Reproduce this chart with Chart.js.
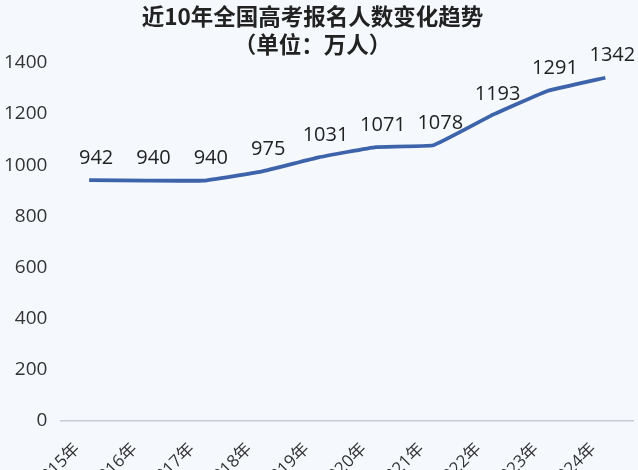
<!DOCTYPE html>
<html>
<head>
<meta charset="utf-8">
<script src="https://cdn.jsdelivr.net/npm/chart.js@4"></script>
<style>
html,body{margin:0;padding:0;background:#f5f8fc;overflow:hidden;width:638px;height:470px;position:relative;}
#wrap{position:absolute;left:-12px;top:0;width:650px;height:503px;}
</style>
</head>
<body>
<div id="wrap"><canvas id="c"></canvas></div>
<script>
const categories = ['2015年','2016年','2017年','2018年','2019年','2020年','2021年','2022年','2023年','2024年'];
const applicants = [942, 940, 940, 975, 1031, 1071, 1078, 1193, 1291, 1342];
const titleLines = ['近10年全国高考报名人数变化趋势', '（单位：万人）'];

const valueLabels = {
  id: 'valueLabels',
  afterDatasetsDraw(chart) {
    const ctx = chart.ctx;
    const meta = chart.getDatasetMeta(0);
    ctx.save();
    ctx.font = '20px "Open Sans", "Noto Sans", sans-serif';
    ctx.fillStyle = '#222';
    ctx.textAlign = 'center';
    ctx.textBaseline = 'middle';
    meta.data.forEach((pt, i) => {
      ctx.fillText(String(applicants[i]), pt.x + 7, pt.y - 22);
    });
    ctx.restore();
  }
};

new Chart(document.getElementById('c'), {
  type: 'line',
  data: {
    labels: categories,
    datasets: [{
      data: applicants,
      borderColor: '#3d63ab',
      borderWidth: 3.8,
      pointRadius: 0,
      tension: 0.08,
      fill: false
    }]
  },
  options: {
    responsive: true,
    maintainAspectRatio: false,
    animation: false,
    layout: { padding: { top: 3, left: 3, right: 4, bottom: 0 } },
    plugins: {
      legend: { display: false },
      tooltip: { enabled: false },
      title: {
        display: true,
        text: titleLines,
        color: '#222',
        font: { size: 22.5, weight: 'bold', family: '"Noto Sans CJK SC", sans-serif', lineHeight: 1.22 },
        padding: { top: 0, bottom: 5 }
      }
    },
    scales: {
      x: {
        offset: true,
        grid: { display: false },
        border: { display: false },
        ticks: {
          minRotation: 45, maxRotation: 45,
          color: '#333',
          padding: 10,
          labelOffset: -12,
          font: { size: 17, family: '"Open Sans", "Noto Sans CJK SC", sans-serif' }
        }
      },
      y: {
        min: 0, max: 1400,
        grid: {
          drawTicks: false,
          color: (c) => c.tick && c.tick.value === 0 ? '#c8ccd2' : 'rgba(0,0,0,0)',
          lineWidth: 1.5
        },
        border: { display: false },
        ticks: {
          stepSize: 200,
          color: '#333',
          padding: 13,
          callback: (v) => String(v),
          font: { size: 19, family: '"Open Sans", "Noto Sans", sans-serif' }
        }
      }
    }
  },
  plugins: [valueLabels]
});
</script>
</body>
</html>
